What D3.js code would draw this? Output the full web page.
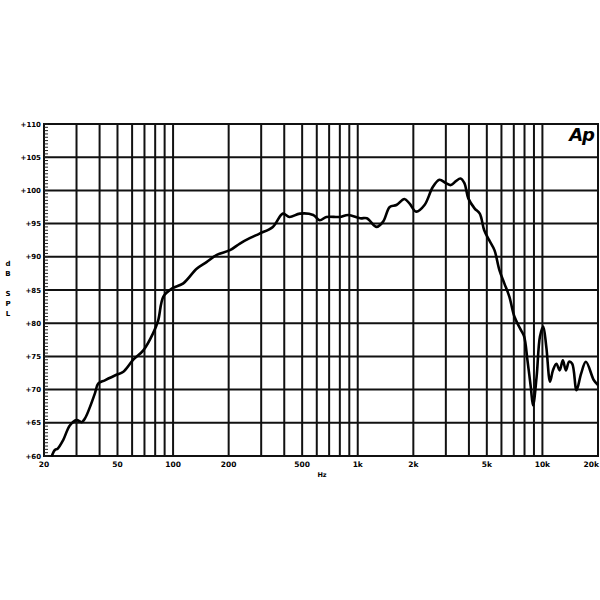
<!DOCTYPE html>
<html>
<head>
<meta charset="utf-8">
<script src="https://cdn.jsdelivr.net/npm/d3@7"></script>
<style>
  html, body { margin: 0; padding: 0; background: #fff; }
  svg { display: block; }
  text { font-family: "DejaVu Sans", sans-serif; font-weight: bold; fill: #000; }
</style>
</head>
<body>
<svg id="chart" width="600" height="600"></svg>
<script>
// ---- data ----
const freqs = [22, 22.9, 23.7, 25.4, 27.6, 30, 32, 33.4, 35.5, 37.7, 39.3, 42.7, 49, 53.8, 60.9, 69, 78, 83, 88.6, 98.4,
  113.6, 134.2, 151.7, 172.6, 203.3, 230, 260, 294, 347, 393, 427, 486, 574, 623, 676, 797, 888, 1032, 1120,
  1265, 1372, 1491, 1620, 1790, 1910, 2072, 2300, 2550, 2770, 3000, 3195, 3400, 3600, 3780, 3970, 4290, 4580,
  4840, 5150, 5500, 5850, 6220, 6620, 7050, 7640, 7960, 8300, 8650, 8900, 9300, 9700, 10100, 10500, 11000,
  11400, 11900, 12400, 12900, 13400, 13950, 14500, 15300, 16200, 17200, 19000, 20000];
const spl = [59.9, 60.9, 61.1, 62.4, 64.6, 65.4, 65.1, 65.7, 67.4, 69.4, 70.9, 71.4, 72.2, 72.7, 74.5, 75.9, 78.5, 80.4, 84.0, 85.2,
  86.0, 88.2, 89.2, 90.3, 91.0, 92.0, 92.8, 93.5, 94.5, 96.5, 96.0, 96.5, 96.3, 95.5, 96.0, 96.0, 96.3, 95.8, 95.8,
  94.5, 95.3, 97.5, 97.8, 98.7, 98.0, 96.8, 97.8, 100.5, 101.6, 101.1, 100.8, 101.4, 101.8, 101.1, 98.8, 97.3, 96.5,
  94.0, 92.5, 91.0, 88.0, 86.0, 84.0, 81.0, 79.0, 78.0, 74.4, 70.4, 67.6, 71.9, 78.0, 79.5, 76.4, 71.2,
  72.9, 73.9, 72.9, 74.4, 72.9, 74.2, 73.9, 69.9, 72.4, 74.2, 71.4, 70.7];

const yTicks = [60, 65, 70, 75, 80, 85, 90, 95, 100, 105, 110];
const yTickLabels = ["+60", "+65", "+70", "+75", "+80", "+85", "+90", "+95", "+100", "+105", "+110"];
const xGrid = [30, 40, 50, 60, 70, 80, 90, 100, 200, 300, 400, 500, 600, 700, 800, 900,
  1000, 2000, 3000, 4000, 5000, 6000, 7000, 8000, 9000, 10000, 20000];
const xLabelVals = [20, 50, 100, 200, 500, 1000, 2000, 5000, 10000, 20000];
const xLabels = ["20", "50", "100", "200", "500", "1k", "2k", "5k", "10k", "20k"];
const yAxisTitle = ["d", "B", "", "S", "P", "L"];
const xAxisTitle = "Hz";
const logoText = "Ap";

// ---- layout ----
const L = 44, R = 598, T = 124, B = 456;
const svg = d3.select("#chart");
const x = d3.scaleLog().domain([20, 20000]).range([L, R]);
const y = d3.scaleLinear().domain([60, 110]).range([B, T]);

// horizontal grid
svg.append("g").selectAll("line").data(yTicks).join("line")
  .attr("x1", L).attr("x2", R)
  .attr("y1", d => y(d)).attr("y2", d => y(d))
  .attr("stroke", "#111").attr("stroke-width", 2);

// vertical grid
svg.append("g").selectAll("line").data(xGrid).join("line")
  .attr("x1", d => x(d)).attr("x2", d => x(d))
  .attr("y1", T).attr("y2", B)
  .attr("stroke", "#111").attr("stroke-width", 2);

// frame
svg.append("rect").attr("x", L).attr("y", T).attr("width", R - L).attr("height", B - T)
  .attr("fill", "none").attr("stroke", "#111").attr("stroke-width", 2);

// minor ticks on left axis (every 0.5 dB)
const minor = d3.range(60, 110.01, 0.5);
svg.append("g").selectAll("line").data(minor).join("line")
  .attr("x1", L).attr("x2", L + 4)
  .attr("y1", d => y(d)).attr("y2", d => y(d))
  .attr("stroke", "#222").attr("stroke-width", 1);

// y labels
svg.append("g").selectAll("text").data(yTicks).join("text")
  .attr("x", L - 3).attr("y", d => y(d) + 2.5)
  .attr("text-anchor", "end").attr("font-size", 7)
  .text((d, i) => yTickLabels[i]);

// x labels
const nX = xLabelVals.length;
svg.append("g").selectAll("text").data(xLabelVals).join("text")
  .attr("x", (d, i) => i === nX - 1 ? 599 : x(d)).attr("y", B + 11)
  .attr("text-anchor", (d, i) => i === nX - 1 ? "end" : "middle").attr("font-size", 7.5)
  .text((d, i) => xLabels[i]);

// axis titles
svg.append("g").selectAll("text").data(yAxisTitle).join("text")
  .attr("x", 8).attr("y", (d, i) => 266 + i * 10)
  .attr("text-anchor", "middle").attr("font-size", 7)
  .text(d => d);
svg.append("text").attr("x", 322).attr("y", 477)
  .attr("text-anchor", "middle").attr("font-size", 6.5).text(xAxisTitle);

// logo
svg.append("text").attr("x", 594).attr("y", 141)
  .attr("text-anchor", "end").attr("font-size", 18)
  .attr("font-style", "italic").attr("font-weight", "bold")
  .attr("letter-spacing", -1)
  .attr("font-family", "Liberation Sans, Arial, sans-serif")
  .text(logoText);

// curve
const line = d3.line().x((d, i) => x(freqs[i])).y(d => y(d)).curve(d3.curveCatmullRom.alpha(0.5));
svg.append("path").datum(spl).attr("d", line)
  .attr("fill", "none").attr("stroke", "#000").attr("stroke-width", 2.6)
  .attr("stroke-linejoin", "round");
</script>
</body>
</html>
